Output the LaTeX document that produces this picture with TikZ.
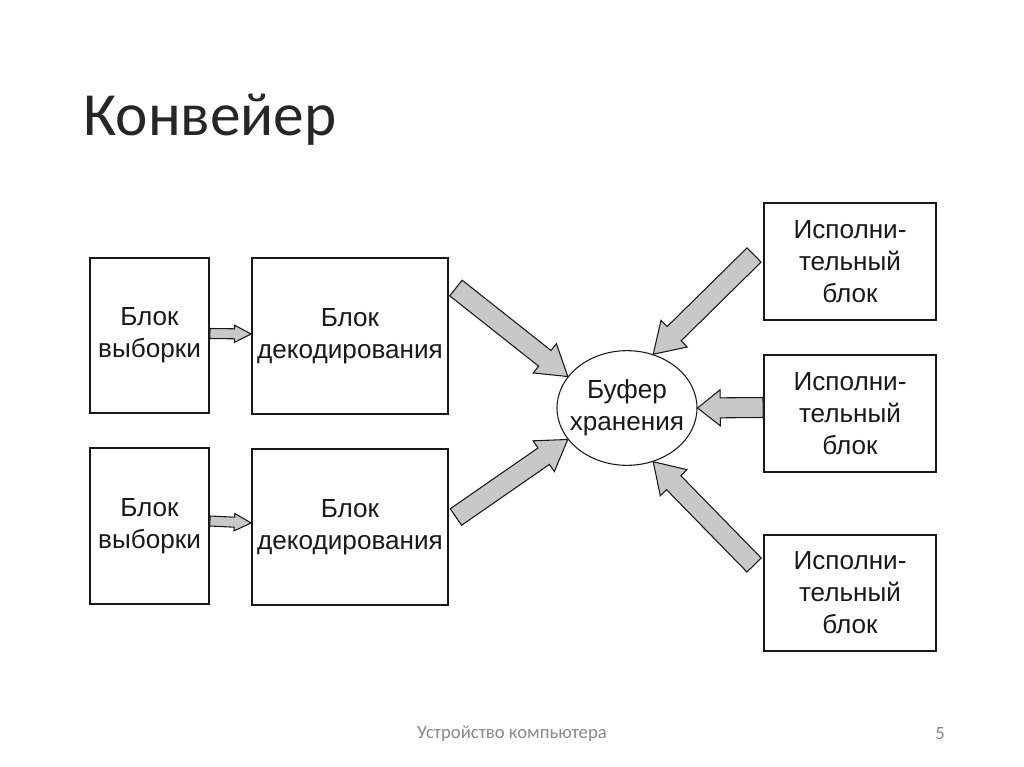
\documentclass[tikz,border=0pt]{standalone}
\usepackage{fontspec}
\setmainfont{Liberation Sans}
\newfontfamily\calib{Carlito}
\usetikzlibrary{calc,shapes.geometric}
\definecolor{arrowgray}{RGB}{200,200,200}
\definecolor{footgray}{RGB}{137,137,137}
\definecolor{inkcol}{RGB}{25,25,25}
% #1 tail, #2 tip, #3 shaft half width, #4 head half width, #5 head length
\newcommand{\blockarrow}[5]{%
  \coordinate (hb) at ($(#2)!#5!(#1)$);
  \draw[barrow] ($(#1)!#3!90:(#2)$) -- ($(hb)!#3!90:(#2)$) -- ($(hb)!#4!90:(#2)$)
    -- (#2) -- ($(hb)!#4!-90:(#2)$) -- ($(hb)!#3!-90:(#2)$) -- ($(#1)!#3!-90:(#2)$) -- cycle;
}
\begin{document}
\begin{tikzpicture}[x=0.75pt,y=-0.75pt,
  blk/.style={draw=inkcol, line width=1.4pt, fill=white, align=center, inner sep=0pt,
    font=\fontsize{19.6}{24}\selectfont, text=inkcol},
  barrow/.style={draw=inkcol, line width=0.8pt, fill=arrowgray, line join=miter},
  buffer/.style={ellipse, draw=inkcol, line width=0.8pt, align=center,
    inner xsep=-6pt, inner ysep=0pt,
    font=\fontsize{19.6}{24}\selectfont, text=inkcol,
    minimum width=105pt, minimum height=86pt}]
\useasboundingbox (0,0) rectangle (1024,767);
\fill[white] (0,0) rectangle (1024,767);

\node[anchor=base west, font=\calib\fontsize{46}{55}\selectfont, text=black!85, inner sep=0pt] (title) at (83,135) {Конвейер};

\node[blk, minimum width=89.25pt, minimum height=116.25pt] (f1) at (149.5,335.5) {Блок\\выборки};
\node[blk, minimum width=147pt, minimum height=117pt] (d1) at (350,336) {Блок\\декодирования};
\node[blk, minimum width=89.25pt, minimum height=117pt] (f2) at (149.5,526) {Блок\\выборки};
\node[blk, minimum width=147pt, minimum height=117pt] (d2) at (350,527) {Блок\\декодирования};

\node[blk, minimum width=129pt, minimum height=87.75pt] (e1) at (850,261.5) {Исполни-\\тельный\\блок};
\node[blk, minimum width=129pt, minimum height=87.75pt] (e2) at (850,413.5) {Исполни-\\тельный\\блок};
\node[blk, minimum width=129pt, minimum height=87pt] (e3) at (850,593) {Исполни-\\тельный\\блок};

\node[buffer] (buf) at (627,408) {Буфер\\хранения};

% small arrows fetch -> decode
\coordinate (s1) at ($(f1.east)+(0,-2)$);
\coordinate (t1) at ($(d1.west)+(0,-2)$);
\blockarrow{s1}{t1}{3.75pt}{6.5pt}{12.5pt}
\coordinate (s2) at ($(f2.east)+(0,-5)$);
\coordinate (t2) at ($(d2.west)+(0,-4)$);
\blockarrow{s2}{t2}{3.75pt}{6.5pt}{12.5pt}

% large arrows to buffer
\coordinate (a1) at ($(d1.east)+(7,-48)$);
\blockarrow{a1}{buf.152}{7.5pt}{14pt}{22pt}
\coordinate (a2) at ($(d2.east)+(7,-10)$);
\blockarrow{a2}{buf.208}{7.5pt}{14pt}{22pt}
\coordinate (a3) at ($(e1.west)+(-9,-6.5)$);
\blockarrow{a3}{buf.64}{7.5pt}{14pt}{22pt}
\coordinate (a4) at ($(e2.west)+(0,-6)$);
\blockarrow{a4}{buf.east}{7.5pt}{13.5pt}{17pt}
\coordinate (a5) at ($(e3.west)+(-9,-28)$);
\blockarrow{a5}{buf.296}{7.5pt}{14pt}{22pt}

\node[font=\calib\fontsize{14}{16}\selectfont, text=footgray] (foot) at (512,734) {Устройство компьютера};
\node[font=\calib\fontsize{14}{16}\selectfont, text=footgray] (page) at (940,734) {5};
\end{tikzpicture}
\end{document}
